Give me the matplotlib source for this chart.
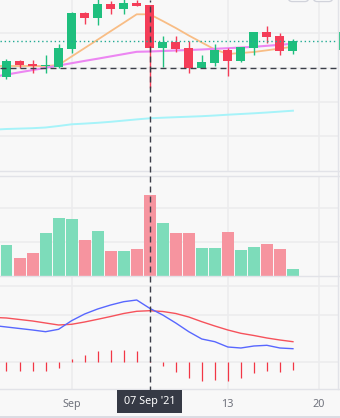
import numpy as np
import pandas as pd
import matplotlib
matplotlib.use("Agg")
import matplotlib.pyplot as plt
from matplotlib.lines import Line2D
from matplotlib.patches import Rectangle, FancyBboxPatch

plt.rcParams["font.family"] = ["Noto Sans", "DejaVu Sans"]

W, H = 340, 418

# daily ETH-style candles, 27 Aug -> 18 Sep 2021
dates = pd.date_range("2021-08-27", periods=23, freq="D")
# indicator lines start one day earlier so they run off the left edge
ind_dates = pd.date_range("2021-08-26", periods=24, freq="D")

opens = [3180, 3340, 3310, 3290, 3280, 3460, 3820, 3773, 3910, 3860, 3923, 3900,
         3473, 3530, 3470, 3273, 3323, 3450, 3340, 3473, 3630, 3590, 3443]
highs = [3360, 3350, 3350, 3400, 3510, 3830, 3833, 3960, 3940, 3960, 3955, 3905,
         3593, 3590, 3543, 3400, 3510, 3470, 3485, 3635, 3690, 3620, 3560]
lows = [3160, 3273, 3223, 3223, 3270, 3423, 3710, 3700, 3810, 3810, 3888, 3070,
        3283, 3427, 3223, 3268, 3290, 3193, 3330, 3400, 3517, 3400, 3410]
closes = [3340, 3300, 3290, 3300, 3470, 3823, 3773, 3910, 3860, 3917, 3893, 3473,
          3530, 3460, 3273, 3330, 3450, 3343, 3480, 3630, 3583, 3443, 3540]

ma_fast = [3290, 3290, 3290, 3290, 3290, 3300, 3385, 3469, 3553, 3638, 3722, 3807,
           3807, 3740, 3670, 3595, 3525, 3455, 3410, 3420, 3430, 3447, 3465, 3483]
ma_mid = [3181, 3204, 3227, 3249, 3272, 3295, 3318, 3341, 3363, 3386, 3409, 3432,
          3435, 3440, 3445, 3450, 3455, 3462, 3468, 3475, 3482, 3492, 3502, 3513]
ma_slow = [2653, 2660, 2664, 2668, 2675, 2690, 2707, 2714, 2722, 2732, 2744, 2756,
           2767, 2773, 2778, 2783, 2788, 2795, 2803, 2810, 2817, 2825, 2834, 2843]

volumes = [614, 354, 454, 854, 1154, 1134, 714, 894, 494, 494, 534, 1614,
           1054, 854, 854, 554, 554, 874, 514, 574, 634, 534, 134]

macd_line = [36.2, 34.7, 33.2, 31.7, 30.0, 32.4, 41.0, 47.7, 52.7, 56.7, 60.0, 61.7,
             53.4, 46.7, 38.7, 30.0, 22.7, 20.0, 14.7, 13.7, 15.7, 16.4, 13.7, 13.0]
signal_line = [44.3, 43.7, 42.2, 40.7, 38.7, 36.7, 37.4, 39.7, 42.4, 45.2, 48.2, 50.4,
               51.0, 50.2, 48.2, 44.7, 40.0, 35.7, 31.7, 28.4, 26.2, 23.7, 21.7, 20.0]
macd_hist = [-9, -9, -9, -9, -6, 2.7, 7, 11, 11.7, 12, 11, 0.8,
             -4.7, -10, -16, -19, -18, -19, -16, -11, -9, -10, -8.3]

cross_date = pd.Timestamp("2021-09-07")
cross_price = 3270
tick_dates = pd.to_datetime(["2021-09-01", "2021-09-13", "2021-09-20"])
tick_labels = ["Sep", "13", "20"]

BG = "#f8f8f8"
GRID = "#ececee"
SEP = "#e2e3e8"
UP, DOWN = "#1fbf7e", "#f43d58"
VOL_UP, VOL_DOWN = "#7ddcba", "#f6949f"
CROSS = "#3b3e48"
TEXT = "#6f727c"

x = np.array([(d - dates[0]).days for d in dates])
xi = np.array([(d - dates[0]).days for d in ind_dates])
up = np.array(closes) >= np.array(opens)
tick_x = [(d - dates[0]).days for d in tick_dates]
cross_x = (cross_date - dates[0]).days

step = 13.02          # pixels per day
x0 = 6.5              # pixel centre of first bar
right_px = 338
xlim = (-x0 / step, (right_px - x0) / step)


def frame(top, bottom, left=0, right=right_px):
    return [left / W, 1 - bottom / H, (right - left) / W, (bottom - top) / H]


fig = plt.figure(figsize=(W / 100, H / 100), dpi=100, facecolor=BG)
ax_main = fig.add_axes(frame(0, 171))
ax_vol = fig.add_axes(frame(176, 275.5))
ax_macd = fig.add_axes(frame(275.5, 389))

for ax in (ax_main, ax_vol, ax_macd):
    ax.set_facecolor(BG)
    ax.set_xlim(*xlim)
    for s in ax.spines.values():
        s.set_visible(False)
    ax.tick_params(left=False, bottom=False, labelleft=False, labelbottom=False)
    for tx in tick_x:
        ax.axvline(tx, color=GRID, lw=1.2, zorder=0)

# price pane
ax_main.set_ylim(2240, 3950)
for p in (3617, 3270, 2927, 2587):
    ax_main.axhline(p, color=GRID, lw=1.2, zorder=0)
ax_main.plot(xi, ma_slow, color="#a6f3f9", lw=1.4, zorder=2)
ax_main.plot(xi, ma_fast, color="#f8bd85", lw=1.3, zorder=2)
ax_main.plot(xi, ma_mid, color="#ec86f2", lw=1.5, zorder=2)
colors = np.where(up, UP, DOWN)
ax_main.vlines(x, lows, highs, colors=colors, lw=1.0, zorder=3)
body_lo = np.minimum(opens, closes)
body_h = np.maximum(np.abs(np.array(closes) - np.array(opens)), 8)
ax_main.bar(x, body_h, bottom=body_lo, width=0.7, color=colors, zorder=4)
ax_main.axhline(closes[-1], color="#22ab94", lw=1.0, ls=(0, (1, 2)), zorder=5)
ax_main.axhline(cross_price, color=CROSS, lw=1.0, ls=(0, (4.3, 2.9)), zorder=6)

# volume pane
ax_vol.set_ylim(0, 1990)
for v in (668, 1348):
    ax_vol.axhline(v, color=GRID, lw=1.2, zorder=0)
ax_vol.bar(x, volumes, width=0.92, color=np.where(up, VOL_UP, VOL_DOWN), zorder=2)

# MACD pane
ax_macd.set_ylim(-27.3, 86.2)
for v in (76, 46.7, 0):
    ax_macd.axhline(v, color=GRID, lw=1.2, zorder=0)
ax_macd.plot(xi, signal_line, color="#f6525b", lw=1.0, zorder=3)
ax_macd.plot(xi, macd_line, color="#5867ff", lw=1.0, zorder=3)
ax_macd.vlines(x, 0, macd_hist, colors="#f23645", lw=0.9, zorder=2)

# pane separators and borders
def hline(ypx, color, lw=1.0, x1=0, x2=W):
    fig.add_artist(Line2D([x1 / W, x2 / W], [1 - ypx / H] * 2, color=color, lw=lw))

hline(171, SEP)
hline(175.7, SEP)
hline(275.5, SEP)
hline(389, SEP)
hline(416.7, "#d6d7df", lw=1.2)
fig.add_artist(Line2D([338.3 / W] * 2, [1 - 389 / H, 1], color=SEP, lw=1.0))

# last price tag peeking in at the right edge
fig.add_artist(Rectangle((338.5 / W, 1 - 50 / H), 2 / W, 18 / H, color=UP, lw=0))

# toolbar buttons cut by the top edge
for bx0, bx1 in ((288, 309), (313, 333)):
    fig.add_artist(FancyBboxPatch((bx0 / W, 1 - 1.5 / H), (bx1 - bx0) / W, 12 / H,
                                  boxstyle="round,pad=0,rounding_size=0.012",
                                  fc="#ffffff", ec="#d1d3db", lw=1.0))

# vertical crosshair through every pane
cx = (x0 + cross_x * step) / W
fig.add_artist(Line2D([cx, cx], [1 - 392 / H, 1], color=CROSS, lw=1.0,
                      ls=(0, (4.3, 2.9)), zorder=10))

# time axis
for tx, lab in zip(tick_x, tick_labels):
    fig.text((x0 + tx * step) / W, 1 - 404.5 / H, lab, color=TEXT, fontsize=7.8,
             ha="center", va="center")
fig.add_artist(Rectangle((117 / W, 1 - 412.7 / H), 64.7 / W, 22.7 / H,
                         color="#363a45", lw=0, zorder=11))
fig.text(cx, 1 - 401.3 / H, cross_date.strftime("%d %b '%y"), color="white",
         fontsize=7.8, ha="center", va="center", zorder=12)

fig.savefig("out.png", dpi=100, facecolor=BG)
